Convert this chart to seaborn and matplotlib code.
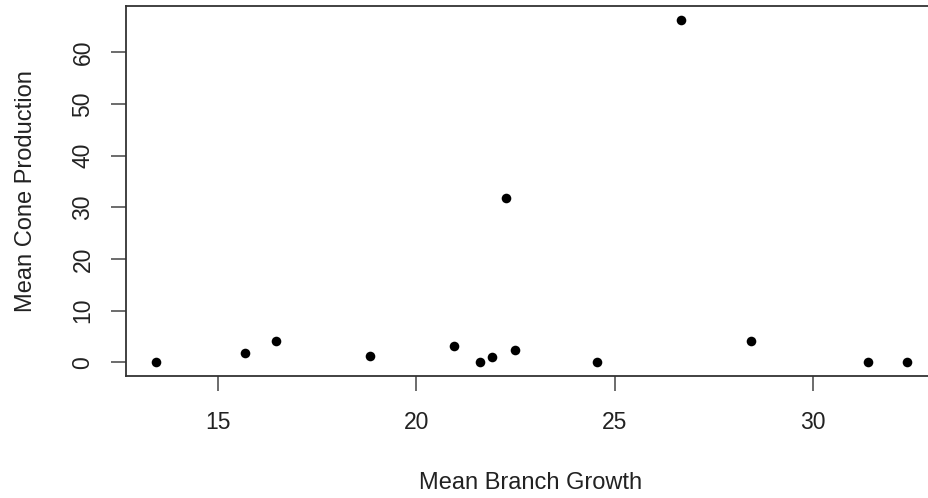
#Import packages
import pandas as pd
import matplotlib
matplotlib.use("Agg")
import matplotlib.pyplot as plt
import seaborn as sns

#Values
branch_growth = [13.46, 15.69, 16.46, 18.84, 20.95, 21.60, 21.91,
                 22.26, 22.48, 24.56, 26.66, 28.43, 31.37, 32.36]
cone_production = [0.0, 1.74, 4.18, 1.28, 3.21, 0.0, 1.03,
                   31.86, 2.38, 0.0, 66.25, 4.12, 0.0, 0.0]
x_ticks = [15, 20, 25, 30]
y_ticks = [0, 10, 20, 30, 40, 50, 60]

df = pd.DataFrame({"growth": branch_growth, "cones": cone_production})

#Base R look: white background, plain box
sns.set_style("white")
plt.rcParams['font.family'] = ['Liberation Sans', 'DejaVu Sans']

fig = plt.figure(figsize=(9.29, 4.98), dpi=100)
ax = fig.add_axes([0.1361, 0.245, 0.8725, 0.7424])

sns.scatterplot(data=df, x="growth", y="cones", ax=ax,
                color="black", s=48, linewidth=0, legend=False)

#R pads the data range by 4% on each side
xr = max(branch_growth) - min(branch_growth)
yr = max(cone_production) - min(cone_production)
ax.set_xlim(min(branch_growth) - 0.04 * xr, max(branch_growth) + 0.04 * xr)
ax.set_ylim(min(cone_production) - 0.04 * yr, max(cone_production) + 0.04 * yr)

ax.set_xticks(x_ticks)
ax.set_yticks(y_ticks)
ax.tick_params(axis="both", bottom=True, left=True, direction="out",
               length=11, width=1.1, color="#444444",
               labelsize=16.5, labelcolor="#222222")
ax.tick_params(axis="x", pad=14)
ax.tick_params(axis="y", pad=12)
for lab in ax.get_yticklabels():
    lab.set_rotation(90)
    lab.set_va("center")

for sp in ax.spines.values():
    sp.set_color("#333333")
    sp.set_linewidth(1.3)
ax.spines["right"].set_visible(False)  #sits just past the image edge in the reference

ax.set_xlabel("Mean Branch Growth", fontsize=17, color="#222222")
ax.set_ylabel("Mean Cone Production", fontsize=17, color="#222222")
ax.xaxis.set_label_coords(0.499, -0.26)
ax.yaxis.set_label_coords(-0.11, 0.5)

fig.savefig("out.png", dpi=100)
